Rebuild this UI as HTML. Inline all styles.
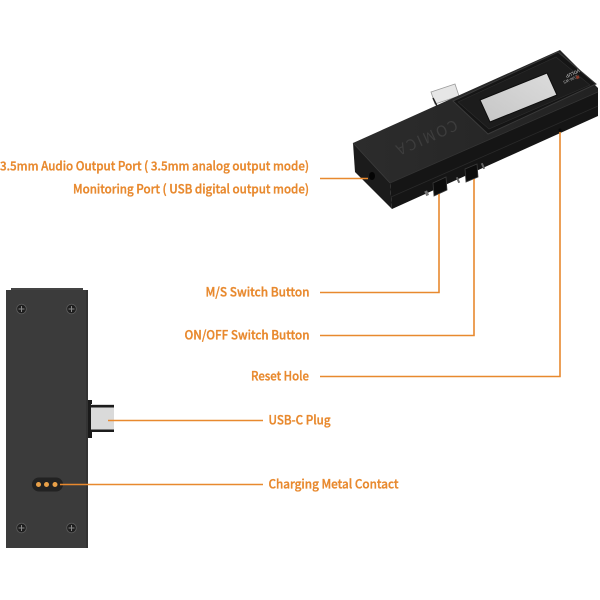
<!DOCTYPE html>
<html><head><meta charset="utf-8"><style>
html,body{margin:0;padding:0;background:#fff;}
svg{display:block;}
text{font-family:"Noto Sans CJK SC","Liberation Sans",sans-serif;font-weight:500;fill:#E8892E;font-size:12.5px;}
.lbl{stroke:#E8892E;stroke-width:0.35px;}
</style></head><body>
<svg width="600" height="600" viewBox="0 0 600 600" xmlns="http://www.w3.org/2000/svg">
<rect width="600" height="600" fill="#fff"/>

<!-- Top-right device -->
<polygon points="431,92 455,84 459,96 435,104" fill="#e6e6e6" stroke="#9a9a9a" stroke-width="0.8"/>
<line x1="433" y1="98" x2="437" y2="106" stroke="#222" stroke-width="1.5"/>
<polygon points="353,143 390,183 392,209 355,172" fill="#1b1b1b"/>
<polygon points="390,183 598,92 598,116 392,209" fill="#151515"/>
<line x1="391" y1="197" x2="598" y2="106" stroke="#2a2a2a" stroke-width="0.8"/>
<defs>
<linearGradient id="topf" x1="0" y1="0" x2="1" y2="0">
<stop offset="0" stop-color="#2c2c2c"/><stop offset="1" stop-color="#222"/></linearGradient>
<linearGradient id="disp" x1="0" y1="1" x2="1" y2="0">
<stop offset="0" stop-color="#c6c6c6"/><stop offset="1" stop-color="#dcdcdc"/></linearGradient>
</defs>
<polygon points="353,143 453,98 560,50 598,88 598,92 390,183" fill="url(#topf)"/>
<line x1="353" y1="143" x2="390" y2="183" stroke="#3a3a3a" stroke-width="0.8"/>
<line x1="390" y1="183" x2="598" y2="92" stroke="#333" stroke-width="0.8"/>
<text x="0" y="0" transform="translate(426,138) rotate(156)" text-anchor="middle" dominant-baseline="central" style="fill:#3d3d3d;font-size:15px;font-weight:400;letter-spacing:2px;">COMICA</text>
<polygon points="453,101 558,52 596,84 488,134" fill="#151515" stroke="#3a3a3a" stroke-width="1"/>
<polygon points="458,102 556,57 590,85 489,129" fill="#1c1c1c" stroke="#2e2e2e" stroke-width="0.6"/>
<polygon points="480,100 547,73 557,95 490,122" fill="url(#disp)" stroke="#0e0e0e" stroke-width="1"/>
<text x="0" y="0" transform="translate(572,72) rotate(156)" text-anchor="middle" style="fill:#bbb;font-size:4.5px;">VOLUP</text>
<text x="0" y="0" transform="translate(570,78) rotate(156)" text-anchor="middle" style="fill:#999;font-size:4px;">CVM-WS</text>
<rect x="576" y="76" width="3" height="3" fill="#8a3a2a" transform="rotate(-24 577 77)"/>
<ellipse cx="372" cy="176" rx="3" ry="4" fill="#050505"/>
<polygon points="433,183 446,177 447,190 434,196" fill="#0c0c0c" stroke="#3a3a3a" stroke-width="0.8"/>
<polygon points="465,169 477,164 478,177 466,182" fill="#0c0c0c" stroke="#3a3a3a" stroke-width="0.8"/>
<rect x="425" y="191" width="3" height="5" fill="#777" transform="rotate(-24 426 193)"/>
<rect x="457" y="177" width="2" height="6" fill="#666" transform="rotate(-24 458 180)"/>
<rect x="482" y="163" width="2" height="6" fill="#666" transform="rotate(-24 483 166)"/>
<circle cx="560" cy="130" r="1.5" fill="#0a0a0a"/>

<!-- Left device -->
<rect x="11" y="288" width="72" height="3" fill="#444"/>
<rect x="6" y="290" width="82" height="258" fill="#3b3b3b"/>
<rect x="86" y="290" width="2" height="258" fill="#333"/>
<g fill="#1e1e1e" stroke="#5a5a5a" stroke-width="0.9">
<circle cx="21.5" cy="309" r="4.8"/><circle cx="71.5" cy="309" r="4.8"/>
<circle cx="21.5" cy="528" r="4.8"/><circle cx="71.5" cy="528" r="4.8"/>
</g>
<g stroke="#888" stroke-width="1">
<path d="M18.5 309h6M21.5 306v6M68.5 309h6M71.5 306v6M18.5 528h6M21.5 525v6M68.5 528h6M71.5 525v6"/>
</g>
<rect x="88" y="400" width="4" height="38" fill="#1a1a1a"/>
<rect x="91" y="404" width="23" height="28" fill="#dadada"/>
<rect x="91" y="405" width="23" height="2.5" fill="#1c1c1c"/>
<rect x="91" y="429.5" width="23" height="2.5" fill="#1c1c1c"/>
<rect x="32" y="477.5" width="31" height="14" rx="7" fill="#222"/>
<circle cx="38.5" cy="484.5" r="2.5" fill="#E8A048"/>
<circle cx="46.5" cy="484.5" r="2.5" fill="#E8A048"/>
<circle cx="55" cy="484.5" r="2.5" fill="#E8A048"/>

<!-- Connector lines -->
<g stroke="#E8892E" stroke-width="1.6" fill="none">
<polyline points="320,178.5 368,178.5"/>
<polyline points="320,292.5 439,292.5 439,194"/>
<polyline points="320,335.5 474,335.5 474,179"/>
<polyline points="320,376.5 560,376.5 560,132"/>
<polyline points="108,420.5 263,420.5"/>
<polyline points="60,484.5 263,484.5"/>
</g>

<!-- Labels -->
<text class="lbl" x="0" y="170.5" textLength="309" lengthAdjust="spacingAndGlyphs">3.5mm Audio Output Port ( 3.5mm analog output mode)</text>
<text class="lbl" x="73" y="193.5" textLength="236" lengthAdjust="spacingAndGlyphs">Monitoring Port ( USB digital output mode)</text>
<text class="lbl" x="205.5" y="296.5" textLength="104" lengthAdjust="spacingAndGlyphs">M/S Switch Button</text>
<text class="lbl" x="184.5" y="339.5" textLength="125" lengthAdjust="spacingAndGlyphs">ON/OFF Switch Button</text>
<text class="lbl" x="251" y="380.5" textLength="58" lengthAdjust="spacingAndGlyphs">Reset Hole</text>
<text class="lbl" x="268.5" y="424.5" textLength="62" lengthAdjust="spacingAndGlyphs">USB-C Plug</text>
<text class="lbl" x="268.5" y="488.5" textLength="130" lengthAdjust="spacingAndGlyphs">Charging Metal Contact</text>
</svg>
</body></html>
